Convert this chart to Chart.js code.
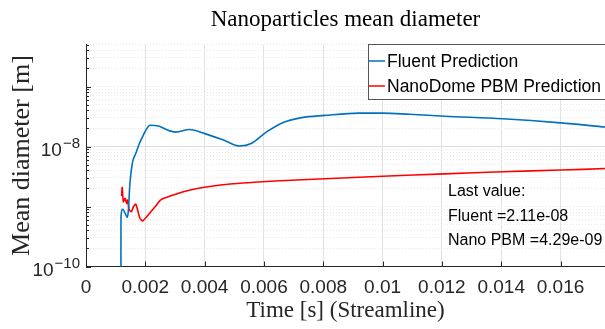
<!DOCTYPE html>
<html><head><meta charset="utf-8">
<script src="https://cdn.jsdelivr.net/npm/chart.js@4/dist/chart.umd.min.js"></script>
<style>html,body{margin:0;padding:0;background:#fff;}#wrap{width:605px;height:329px;position:relative;}</style>
</head><body><div id="wrap"><canvas id="c" width="605" height="329"></canvas></div>
<script>
// ---- data ----
const fluentTime = [0.001175, 0.00118, 0.00124, 0.00132, 0.00139, 0.00143, 0.00148, 0.00156, 0.00168, 0.00180, 0.00193, 0.00216, 0.00244, 0.00277, 0.00303, 0.00349, 0.00401, 0.00466, 0.00518, 0.00557, 0.00609, 0.00661, 0.00727, 0.00805, 0.0092, 0.0100, 0.0109, 0.0121, 0.01405, 0.0160, 0.0175];
const fluentDiameter = [1e-11, 6.8e-10, 9.0e-10, 7.7e-10, 6.6e-10, 8.7e-10, 2.4e-9, 5.2e-9, 7.7e-9, 1.12e-8, 1.54e-8, 2.26e-8, 2.2e-8, 1.86e-8, 1.74e-8, 1.92e-8, 1.64e-8, 1.27e-8, 1.02e-8, 1.12e-8, 1.75e-8, 2.47e-8, 3.03e-8, 3.3e-8, 3.6e-8, 3.6e-8, 3.45e-8, 3.2e-8, 2.9e-8, 2.48e-8, 2.11e-8];
const pbmTime = [0.00120, 0.00122, 0.00126, 0.00132, 0.00137, 0.00140, 0.00146, 0.00153, 0.00160, 0.00168, 0.00174, 0.00182, 0.00191, 0.00205, 0.00233, 0.00255, 0.00351, 0.00486, 0.00654, 0.00805, 0.0100, 0.0121, 0.01405, 0.0160, 0.0175];
const pbmDiameter = [1.49e-9, 2.08e-9, 1.2e-9, 1.37e-9, 1.13e-9, 1.28e-9, 8.75e-10, 8.2e-10, 9.9e-10, 1.1e-9, 8.75e-10, 6.37e-10, 5.75e-10, 6.77e-10, 9.9e-10, 1.32e-9, 1.88e-9, 2.37e-9, 2.69e-9, 2.9e-9, 3.2e-9, 3.5e-9, 3.8e-9, 4.05e-9, 4.29e-9];
const seriesNames = ['Fluent Prediction', 'NanoDome PBM Prediction'];
const xTickValues = [0, 0.002, 0.004, 0.006, 0.008, 0.01, 0.012, 0.014, 0.016];
const xTickLabels = ['0', '0.002', '0.004', '0.006', '0.008', '0.01', '0.012', '0.014', '0.016'];
const yLabelValues = [1e-10, 1e-8];
const yLabelBase = ['10', '10'];
const yLabelExponent = ['\u221210', '\u22128'];
const annotationLines = ['Last value:', 'Fluent =2.11e-08', 'Nano PBM =4.29e-09'];
const titleText = 'Nanoparticles mean diameter';
const xTitle = 'Time [s] (Streamline)';
const yTitle = 'Mean diameter [m]';

const AX = '#262626';
const SANS = "'Liberation Sans', Arial, sans-serif";
const SERIF = "'Liberation Serif', 'Times New Roman', serif";

function isLabelled(v) {
  return yLabelValues.some(m => Math.abs(Math.log10(v) - Math.log10(m)) < 1e-6);
}
function isDecade(v) {
  const l = Math.log10(v);
  return Math.abs(l - Math.round(l)) < 1e-6;
}

const decorations = {
  id: 'decorations',
  afterDraw(chart) {
    const ctx = chart.ctx;
    const xs = chart.scales.x, ys = chart.scales.y;
    const a = chart.chartArea;
    ctx.save();
    // inward tick marks
    ctx.strokeStyle = AX; ctx.lineWidth = 1;
    ctx.beginPath();
    xs.ticks.forEach(t => {
      const px = Math.round(xs.getPixelForValue(t.value)) + 0.5;
      ctx.moveTo(px, a.bottom); ctx.lineTo(px, a.bottom - 5);
    });
    ys.ticks.forEach(t => {
      const py = Math.round(ys.getPixelForValue(t.value)) + 0.5;
      const len = isDecade(t.value) ? 5 : 3;
      ctx.moveTo(a.left, py); ctx.lineTo(a.left + len, py);
    });
    ctx.stroke();

    // y tick labels with superscript exponents (positions from the y scale)
    ctx.fillStyle = AX;
    ctx.textBaseline = 'alphabetic';
    yLabelValues.forEach((v, i) => {
      const py = ys.getPixelForValue(v);
      const right = a.left - 6;
      ctx.font = '15px ' + SANS;
      const ew = ctx.measureText(yLabelExponent[i]).width;
      ctx.textAlign = 'right';
      ctx.fillText(yLabelExponent[i], right, py + 1);
      ctx.font = '19px ' + SANS;
      ctx.fillText(yLabelBase[i], right - ew - 1, py + 9.5);
    });

    // legend box
    const lx = 368.5, ly = 44.5, lw = 240, lh = 55;
    ctx.fillStyle = '#fff';
    ctx.fillRect(lx, ly, lw, lh);
    ctx.strokeStyle = '#555'; ctx.lineWidth = 1;
    ctx.strokeRect(lx, ly, lw, lh);
    ctx.font = '17.5px ' + SANS;
    ctx.textBaseline = 'middle'; ctx.textAlign = 'left';
    chart.data.datasets.forEach((ds, i) => {
      const cy = 61 + i * 25;
      ctx.strokeStyle = ds.borderColor; ctx.lineWidth = 1.5;
      ctx.beginPath(); ctx.moveTo(369, cy); ctx.lineTo(385, cy); ctx.stroke();
      ctx.fillStyle = '#000';
      ctx.fillText(ds.label, 387, cy + 1);
    });

    // annotation text
    ctx.font = '16px ' + SANS;
    ctx.fillStyle = '#000';
    annotationLines.forEach((s, i) => ctx.fillText(s, 448, 192 + i * 24.5));
    ctx.restore();
  }
};

new Chart(document.getElementById('c'), {
  type: 'line',
  data: {
    datasets: [
      { label: seriesNames[0], data: fluentTime.map((t, i) => ({x: t, y: fluentDiameter[i]})),
        borderColor: '#0072BD', borderWidth: 1.6, pointRadius: 0, cubicInterpolationMode: 'monotone', fill: false },
      { label: seriesNames[1], data: pbmTime.map((t, i) => ({x: t, y: pbmDiameter[i]})),
        borderColor: '#FF0000', borderWidth: 1.6, pointRadius: 0, tension: 0.2, fill: false }
    ]
  },
  options: {
    responsive: false, animation: false, devicePixelRatio: 1,
    layout: { padding: 0 },
    plugins: {
      legend: { display: false },
      tooltip: { enabled: false },
      title: { display: true, text: titleText, fullSize: false, color: '#000',
        font: { family: SERIF, size: 23, weight: 'normal', lineHeight: 1.2 },
        padding: { top: 6, bottom: 11 } }
    },
    scales: {
      x: {
        type: 'linear', min: 0, max: 0.0175,
        afterBuildTicks: s => { s.ticks = xTickValues.map(v => ({value: v})); },
        afterFit: s => { s.height = 62.5; },
        ticks: { autoSkip: false, maxRotation: 0, color: AX, padding: 10,
          font: { family: SANS, size: 19 },
          callback: (v) => { const i = xTickValues.findIndex(t => Math.abs(t - v) < 1e-9); return i >= 0 ? xTickLabels[i] : ''; } },
        grid: { color: '#e2e2e2', lineWidth: 1, drawTicks: false },
        border: { color: AX, width: 1 },
        title: { display: true, text: xTitle, color: AX, font: { family: SERIF, size: 23, lineHeight: 1.2 }, padding: { top: 0, bottom: 4 } }
      },
      y: {
        type: 'logarithmic', min: 1e-10, max: 5e-7,
        afterBuildTicks: s => {
          const t = [];
          for (let e = -10; e <= -7; e++) for (let k = 1; k <= 9; k++) {
            const v = k * Math.pow(10, e);
            if (v <= 5.0001e-7) t.push({value: v});
          }
          s.ticks = t;
        },
        afterFit: s => { s.width = 86; },
        ticks: { display: false, autoSkip: false },
        grid: { drawTicks: false, lineWidth: 1,
          color: c => (c.tick && isLabelled(c.tick.value)) ? '#dcdcdc' : '#e8e8e8' },
        border: { color: AX, width: 1,
          dash: c => (c.tick && isLabelled(c.tick.value)) ? [] : [1, 2] },
        title: { display: true, text: yTitle, color: AX, font: { family: SERIF, size: 26, lineHeight: 1.2 }, padding: { top: 7, bottom: 0 } }
      }
    }
  },
  plugins: [decorations]
});
</script></body></html>
